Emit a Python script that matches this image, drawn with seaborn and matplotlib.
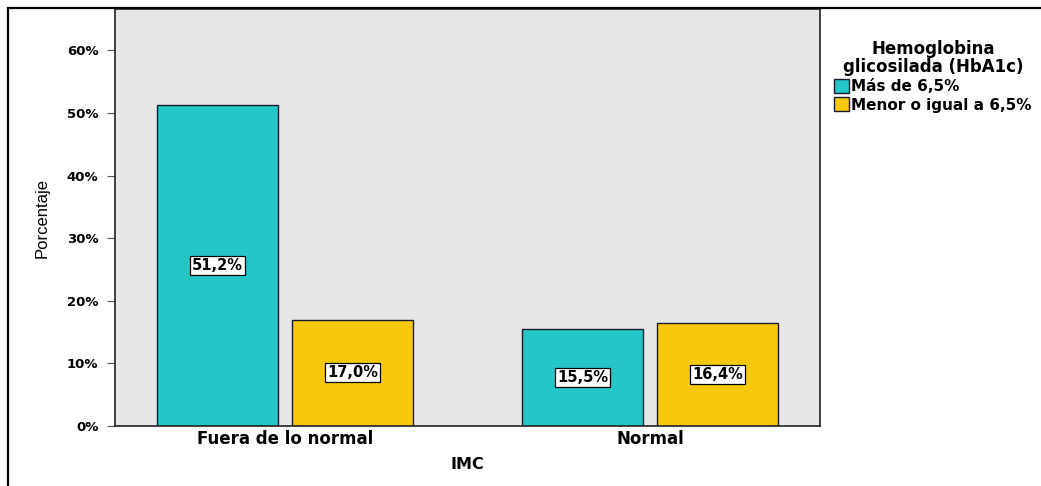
import matplotlib
matplotlib.use("Agg")
import matplotlib.pyplot as plt
import matplotlib.patches as mpatches
import seaborn as sns
import pandas as pd

# Data: percentage of patients by BMI group and HbA1c level
imc = ["Fuera de lo normal", "Fuera de lo normal", "Normal", "Normal"]
hba1c = ["Más de 6,5%", "Menor o igual a 6,5%", "Más de 6,5%", "Menor o igual a 6,5%"]
porcentaje = [51.2, 17.0, 15.5, 16.4]
y_ticks = [0, 10, 20, 30, 40, 50, 60]

df = pd.DataFrame({"IMC": imc, "HbA1c": hba1c, "Porcentaje": porcentaje})

sns.set_theme(style="white")
plt.rcParams["font.family"] = ["DejaVu Sans"]
plt.rcParams["text.color"] = "black"
plt.rcParams["axes.labelcolor"] = "black"
plt.rcParams["xtick.color"] = "black"
plt.rcParams["ytick.color"] = "black"
WIDE = "DejaVu Sans"

fig = plt.figure(figsize=(10.41, 4.86), dpi=100)
ax = fig.add_axes([115 / 1041, 1 - 426 / 486, (820 - 115) / 1041, (426 - 9) / 486])
ax.set_facecolor("#E7E7E7")

palette = {"Más de 6,5%": "#22C7C6", "Menor o igual a 6,5%": "#F8C80C"}
sns.barplot(data=df, x="IMC", y="Porcentaje", hue="HbA1c", palette=palette,
            width=0.74, gap=0.1, edgecolor="#1A1A2E", linewidth=1.0,
            saturation=1, ax=ax, errorbar=None)

# Value labels in white boxes at the middle of each bar
for container in ax.containers:
    for bar, v in zip(container, container.datavalues):
        ax.text(bar.get_x() + bar.get_width() / 2, v / 2,
                f"{v:.1f}%".replace(".", ","), ha="center", va="center",
                family=WIDE, fontsize=10.5, fontweight="bold", color="black",
                bbox=dict(boxstyle="square,pad=0.15", fc="white", ec="black", lw=0.9))

ax.set_xlim(-0.466, 1.466)
ax.set_ylim(0, 66.6)
ax.set_yticks(y_ticks)
ax.set_yticklabels([f"{t}%" for t in y_ticks], family=WIDE, fontsize=9.5,
                   fontweight="bold")
ax.tick_params(axis="y", length=6, width=0.8, left=True, pad=6, color="#555555")
ax.tick_params(axis="x", length=0, pad=3)
ax.set_xticks(ax.get_xticks())
ax.set_xticklabels(["Fuera de lo normal", "Normal"], family=WIDE, fontsize=12,
                   fontweight="bold")
ax.set_xlabel("IMC", family=WIDE, fontsize=11.5, fontweight="bold", labelpad=6)
ax.set_ylabel("Porcentaje", family="Liberation Sans", fontsize=12, labelpad=12)

for s in ax.spines.values():
    s.set_visible(True)
    s.set_color("#222222")
    s.set_linewidth(1.2)

leg = ax.legend(title="Hemoglobina\nglicosilada (HbA1c)", loc="upper left",
                bbox_to_anchor=(1.02, 0.925), frameon=False,
                prop={"family": WIDE, "size": 11, "weight": "bold"},
                handlelength=0.95, handleheight=1.0,
                handletextpad=0.15, borderaxespad=0.0, labelspacing=0.2,
                borderpad=0.0)
leg.get_title().set_fontweight("bold")
leg.get_title().set_fontsize(12)
leg.get_title().set_family(WIDE)
leg.get_title().set_multialignment("center")
leg.get_title().set_linespacing(1.0)
for h in leg.legend_handles:
    h.set_edgecolor("#1A1A2E")
    h.set_linewidth(1.0)

# Outer frame around the figure
frame = mpatches.Rectangle((8 / 1041, -0.1), 1.2, 1 - 8 / 486 + 0.1,
                           transform=fig.transFigure, fill=False,
                           ec="black", lw=1.6, clip_on=False)
fig.patches.append(frame)

fig.savefig("out.png", dpi=100)
